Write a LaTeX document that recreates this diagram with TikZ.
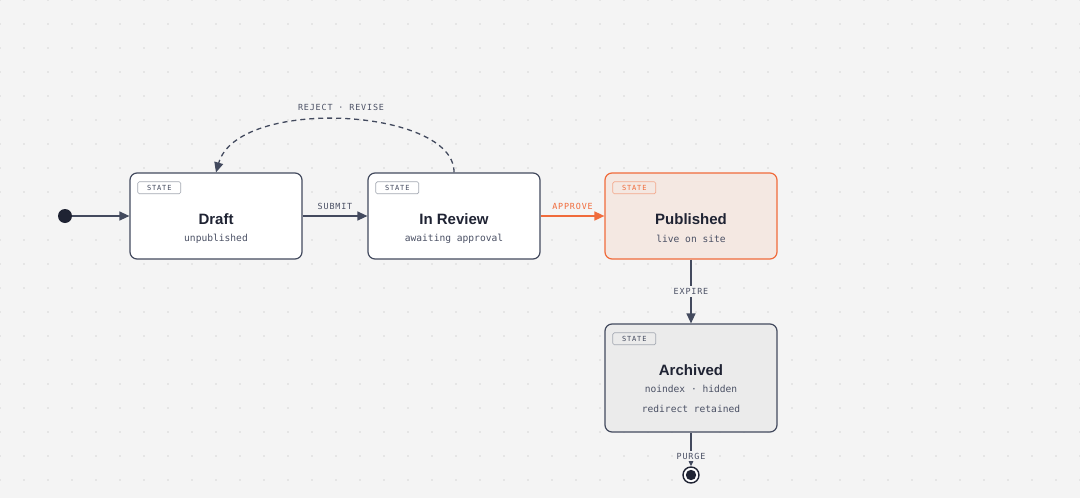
\documentclass[tikz,border=0pt]{standalone}
\usepackage{fontspec}
\setmainfont{Liberation Sans}
\newfontfamily\monofont{DejaVu Sans Mono}
\newfontfamily\capsfont[LetterSpace=10]{DejaVu Sans Mono}
\newfontfamily\tagfont[LetterSpace=12]{DejaVu Sans Mono}
\usetikzlibrary{arrows.meta,positioning}
\definecolor{paper}{HTML}{F4F4F4}
\definecolor{griddot}{HTML}{D6D6D6}
\definecolor{ink}{HTML}{434A5E}
\definecolor{darkink}{HTML}{1F2333}
\definecolor{muted}{HTML}{4A5064}
\definecolor{tagline}{HTML}{A3A8B2}
\definecolor{accent}{HTML}{F06B3B}
\definecolor{accentsoft}{HTML}{F3A98C}
\definecolor{pubfill}{HTML}{F4E8E2}
\definecolor{archfill}{HTML}{EBEBEB}
\tikzset{
  statebox/.style={draw=ink, line width=1.2pt, fill=white, rounded corners=7pt,
    minimum width=172pt, minimum height=86pt, inner sep=0pt},
  tagbox/.style={draw=tagline, line width=0.7pt, rounded corners=1.5pt, text=ink,
    font=\tagfont\fontsize{7}{8}\selectfont, minimum width=43pt, minimum height=12pt,
    inner sep=0pt, anchor=north west},
  title/.style={font=\bfseries\fontsize{15}{17}\selectfont, text=darkink},
  subline/.style={font=\monofont\fontsize{9.6}{11}\selectfont, text=muted},
  edgelabel/.style={font=\capsfont\fontsize{8.4}{9}\selectfont, text=muted},
  flow/.style={draw=ink, line width=1.3pt, -{Triangle[length=10pt,width=9pt]}},
}
\begin{document}
\begin{tikzpicture}[x=1pt,y=-1pt]
  % background with dot grid
  \fill[paper] (0,0) rectangle (1080,498);
  \useasboundingbox (0,0) rectangle (1080,498);
  \foreach \gx in {0,24,...,1080}
    \foreach \gy in {0,24,...,498}
      \fill[griddot] (\gx,\gy) circle (0.8pt);

  % states
  \node[statebox] (draft) at (216,216) {};
  \node[statebox] (review) at (454,216) {};
  \node[statebox, draw=accent, fill=pubfill] (published) at (691,216) {};
  \node[statebox, fill=archfill, minimum height=108pt] (archived) at (691,378) {};

  \node[tagbox] (drafttag) at ([xshift=8pt,yshift=-9pt]draft.north west) {STATE};
  \node[tagbox] (reviewtag) at ([xshift=8pt,yshift=-9pt]review.north west) {STATE};
  \node[tagbox, draw=accentsoft, text=accent] (pubtag) at ([xshift=8pt,yshift=-9pt]published.north west) {STATE};
  \node[tagbox] (archtag) at ([xshift=8pt,yshift=-9pt]archived.north west) {STATE};

  \node[title] (drafttitle) at ([yshift=-3pt]draft.center) {Draft};
  \node[subline] (draftsub) at ([yshift=-23pt]draft.center) {unpublished};
  \node[title] (reviewtitle) at ([yshift=-3pt]review.center) {In Review};
  \node[subline] (reviewsub) at ([yshift=-23pt]review.center) {awaiting approval};
  \node[title] (pubtitle) at ([yshift=-3pt]published.center) {Published};
  \node[subline] (pubsub) at ([yshift=-23pt]published.center) {live on site};
  \node[title] (archtitle) at ([yshift=8pt]archived.center) {Archived};
  \node[subline] (archsub) at ([yshift=-11pt]archived.center) {noindex · hidden};
  \node[subline] (archsub2) at ([yshift=-31pt]archived.center) {redirect retained};

  % pseudo states
  \node[circle, fill=darkink, minimum size=14pt, inner sep=0pt] (start) at (65,216) {};
  \node[circle, draw=darkink, line width=1.4pt, fill=white, minimum size=16pt, inner sep=0pt] (finish) at (691,475) {};
  \fill[darkink] (finish.center) circle (5.2pt);

  % transitions
  \draw[flow] (start) -- (draft);
  \draw[flow] (draft) -- node[edgelabel, above=2pt] (submit) {SUBMIT} (review);
  \draw[flow, draw=accent, line width=1.6pt] (review) -- node[edgelabel, text=accent, above=2pt] (approve) {APPROVE} (published);
  \draw[flow] (published) -- node[edgelabel, fill=paper, inner sep=2pt] (expire) {EXPIRE} (archived);
  \draw[flow] (archived) -- node[edgelabel, fill=paper, inner sep=2pt, pos=0.7] (purge) {PURGE} (finish);
  \draw[flow, dashed, dash pattern=on 5pt off 4pt] (review.north) .. controls (455,108) and (238,96) .. (draft.north);
  \node[edgelabel] (reject) at (341,107) {REJECT · REVISE};
\end{tikzpicture}
\end{document}
